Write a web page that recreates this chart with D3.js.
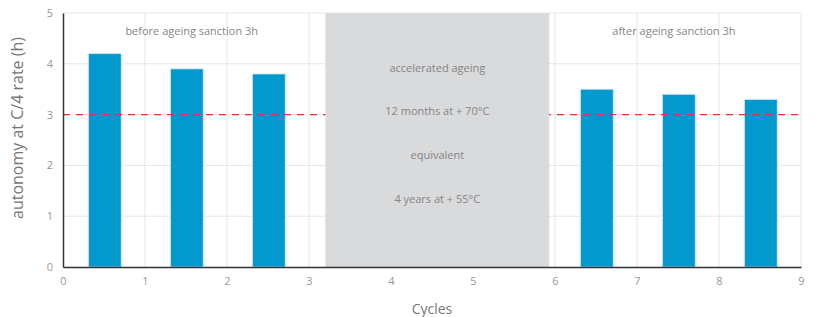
<!DOCTYPE html>
<html>
<head>
<meta charset="utf-8">
<script src="https://cdn.jsdelivr.net/npm/d3@7"></script>
<style>
  body { margin: 0; background: #fff; }
  svg text { font-family: "Open Sans", sans-serif; }
</style>
</head>
<body>
<svg id="chart" width="819" height="317"></svg>
<script>
// cycle positions and autonomy values
const cycles = [0.51, 1.51, 2.51, 6.51, 7.51, 8.51];
const autonomy = [4.2, 3.9, 3.8, 3.5, 3.4, 3.3];
const xTicks = [0, 1, 2, 3, 4, 5, 6, 7, 8, 9];
const yTicks = [0, 1, 2, 3, 4, 5];
const sanction = 3;
const ageingBand = [3.2, 5.93];
const ageingLines = ['accelerated ageing', '12 months at + 70°C', 'equivalent', '4 years at + 55°C'];
const ageingLineY = [3.92, 3.06, 2.2, 1.34];
const sideLabels = [
  { x: 1.57, y: 4.65, text: 'before ageing sanction 3h' },
  { x: 7.45, y: 4.65, text: 'after ageing sanction 3h' }
];

const svg = d3.select('#chart');
const margin = { top: 13, bottom: 50, right: 18, left: 63 };
const width = 819, height = 317;

const x = d3.scaleLinear().domain([0, 9]).range([margin.left, width - margin.right]);
const y = d3.scaleLinear().domain([0, 5]).range([height - margin.bottom, margin.top]);

// grid
svg.append('g').selectAll('line')
  .data(xTicks.slice(1))
  .join('line')
  .attr('x1', d => x(d)).attr('x2', d => x(d))
  .attr('y1', y(0)).attr('y2', y(5))
  .style('stroke', '#e6e6e6');
svg.append('g').selectAll('line')
  .data(yTicks.slice(1))
  .join('line')
  .attr('x1', x(0)).attr('x2', x(9))
  .attr('y1', d => y(d)).attr('y2', d => y(d))
  .style('stroke', '#e6e6e6');

// bars
const barW = x(0.4) - x(0);
svg.append('g').selectAll('rect')
  .data(cycles)
  .join('rect')
  .attr('x', d => x(d) - barW / 2)
  .attr('y', (d, i) => y(autonomy[i]))
  .attr('width', barW)
  .attr('height', (d, i) => y(0) - y(autonomy[i]))
  .style('fill', '#0399cd')
  .style('stroke', '#cfeaf5')
  .style('stroke-width', 0.8);

// sanction line
svg.append('line')
  .attr('x1', x(0)).attr('x2', x(9))
  .attr('y1', y(sanction)).attr('y2', y(sanction))
  .style('stroke', '#e2323a')
  .style('stroke-width', 1.2)
  .style('stroke-dasharray', '7,6');

// accelerated ageing band
svg.append('rect')
  .attr('x', x(ageingBand[0]))
  .attr('y', y(5))
  .attr('width', x(ageingBand[1]) - x(ageingBand[0]))
  .attr('height', y(0) - y(5))
  .style('fill', '#d9dadc');

svg.append('g').selectAll('text')
  .data(ageingLines)
  .join('text')
  .attr('x', x((ageingBand[0] + ageingBand[1]) / 2))
  .attr('y', (d, i) => y(ageingLineY[i]))
  .attr('text-anchor', 'middle')
  .attr('dy', '0.35em')
  .style('font-size', '11px')
  .style('fill', '#858585')
  .text(d => d);

svg.append('g').selectAll('text')
  .data(sideLabels)
  .join('text')
  .attr('x', d => x(d.x))
  .attr('y', d => y(d.y))
  .attr('text-anchor', 'middle')
  .attr('dy', '0.35em')
  .style('font-size', '11px')
  .style('fill', '#858585')
  .text(d => d.text);

// axes
const xAxis = svg.append('g')
  .attr('transform', `translate(0,${y(0)})`)
  .call(d3.axisBottom(x).tickValues(xTicks).tickFormat(d3.format('d')).tickSize(0).tickPadding(10));
const yAxis = svg.append('g')
  .attr('transform', `translate(${x(0)},0)`)
  .call(d3.axisLeft(y).tickValues(yTicks).tickFormat(d3.format('d')).tickSize(0).tickPadding(10));

[xAxis, yAxis].forEach(a => {
  a.select('.domain').style('stroke', '#333').style('stroke-width', 1.5);
  a.selectAll('text')
    .style('font-family', '"Open Sans", sans-serif')
    .style('font-size', '11px')
    .style('fill', '#999');
});

svg.append('text')
  .attr('x', (x(0) + x(9)) / 2)
  .attr('y', 314)
  .attr('text-anchor', 'middle')
  .style('font-size', '14px')
  .style('fill', '#777')
  .text('Cycles');

svg.append('text')
  .attr('transform', `translate(23,${(y(0) + y(5)) / 2 - 12}) rotate(-90)`)
  .attr('text-anchor', 'middle')
  .style('font-size', '16px')
  .style('fill', '#777')
  .text('autonomy at C/4 rate (h)');
</script>
</body>
</html>
